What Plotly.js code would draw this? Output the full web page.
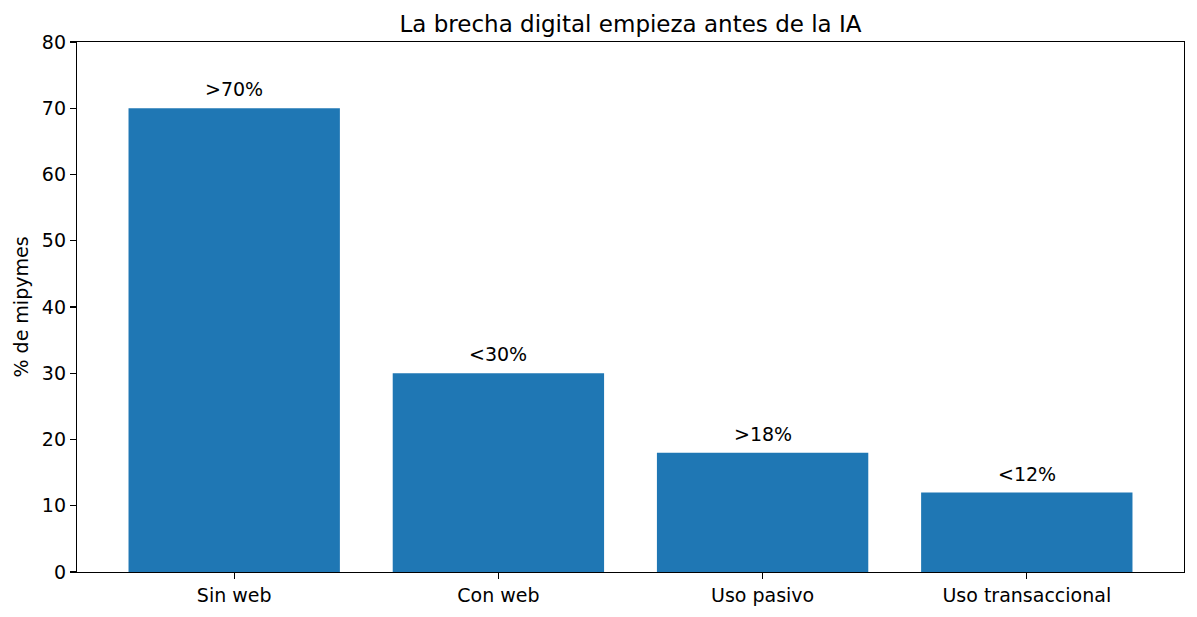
<!DOCTYPE html>
<html>
<head>
<meta charset="utf-8">
<script src="https://cdn.plot.ly/plotly-3.0.1.min.js"></script>
<style>
  html, body { margin: 0; padding: 0; background: #fff; }
  #chart { width: 1197px; height: 617px; }
</style>
</head>
<body>
<div id="chart"></div>
<script>
(function () {
  'use strict';

  var categories = ['Sin web', 'Con web', 'Uso pasivo', 'Uso transaccional'];
  var values = [70, 30, 18, 12];
  var barLabels = ['>70%', '<30%', '>18%', '<12%'];
  var yTicks = [0, 10, 20, 30, 40, 50, 60, 70, 80];

  var BLUE = '#1f77b4';
  var FONT = '"DejaVu Sans", Verdana, sans-serif';
  var FS = 19;

  function esc(s) {
    return s.replace(/&/g, '&amp;').replace(/</g, '&lt;').replace(/>/g, '&gt;');
  }

  var xs = categories.map(function (c, i) { return i; });

  var bars = {
    type: 'bar',
    x: xs,
    y: values,
    width: 0.8,
    marker: { color: BLUE, line: { width: 0 } },
    hoverinfo: 'skip',
    showlegend: false
  };

  /* value labels just above each bar */
  var annotations = values.map(function (v, i) {
    return {
      x: xs[i], y: v, xref: 'x', yref: 'y',
      text: esc(barLabels[i]),
      showarrow: false,
      yanchor: 'bottom',
      yshift: 6,
      font: { size: FS, color: '#000', family: FONT }
    };
  });

  var layout = {
    width: 1197,
    height: 617,
    margin: { l: 77, r: 13, t: 42, b: 45 },
    title: {
      text: 'La brecha digital empieza antes de la IA',
      font: { size: 23, color: '#000', family: FONT },
      x: 0.5, xref: 'paper', xanchor: 'center',
      y: 1, yref: 'paper', yanchor: 'bottom', pad: { b: 10 }
    },
    xaxis: {
      range: [-0.595, 3.595],
      tickvals: xs,
      ticktext: categories,
      ticks: 'outside', ticklen: 6, tickwidth: 1.2, tickcolor: '#000',
      tickfont: { size: FS, color: '#000', family: FONT },
      showline: true, linecolor: '#000', linewidth: 1.2, mirror: true,
      showgrid: false, zeroline: false, fixedrange: true
    },
    yaxis: {
      range: [0, 80],
      tickvals: yTicks,
      ticks: 'outside', ticklen: 6, tickwidth: 1.2, tickcolor: '#000',
      tickfont: { size: FS, color: '#000', family: FONT },
      title: { text: '% de mipymes', font: { size: FS, color: '#000', family: FONT }, standoff: 8 },
      showline: true, linecolor: '#000', linewidth: 1.2, mirror: true,
      showgrid: false, zeroline: false, fixedrange: true
    },
    annotations: annotations,
    paper_bgcolor: '#fff',
    plot_bgcolor: '#fff',
    font: { family: FONT, color: '#000' },
    showlegend: false,
    dragmode: false
  };

  Plotly.newPlot('chart', [bars], layout, { displayModeBar: false, staticPlot: true });
})();
</script>
</body>
</html>
